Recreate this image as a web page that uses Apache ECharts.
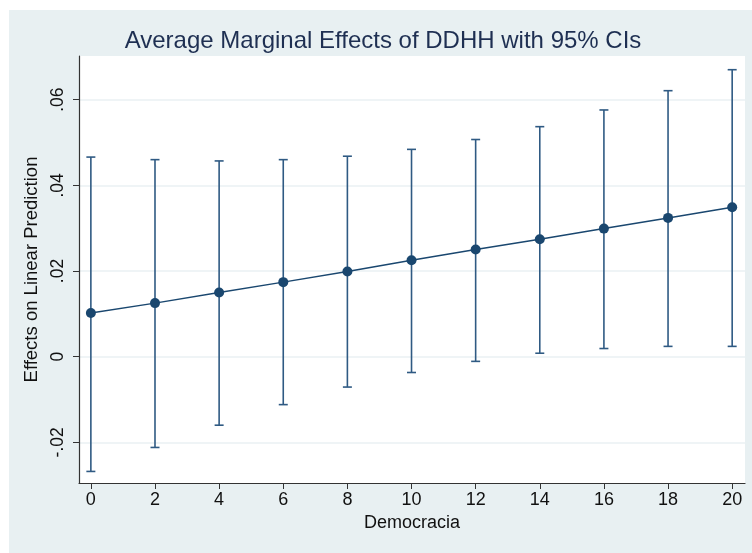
<!DOCTYPE html>
<html>
<head>
<meta charset="utf-8">
<script src="https://cdn.jsdelivr.net/npm/echarts@6/dist/echarts.min.js"></script>
<style>
html,body{margin:0;padding:0;background:#ffffff;}
#chart{width:752px;height:553px;}
</style>
</head>
<body>
<div id="chart"></div>
<script>
var democracia = [0, 2, 4, 6, 8, 10, 12, 14, 16, 18, 20];
var effect = [0.0102, 0.0125, 0.0150, 0.0174, 0.0199, 0.0225, 0.0250, 0.0274, 0.0299, 0.0324, 0.0349];
var ciLower = [-0.0268, -0.0212, -0.0160, -0.0112, -0.0071, -0.0037, -0.0011, 0.0008, 0.0019, 0.0024, 0.0024];
var ciUpper = [0.0466, 0.0460, 0.0457, 0.0460, 0.0468, 0.0484, 0.0507, 0.0537, 0.0576, 0.0621, 0.0670];
var yTicks = [-0.02, 0, 0.02, 0.04, 0.06];
var yTickLabels = ['-.02', '0', '.02', '.04', '.06'];
var xTicks = [0, 2, 4, 6, 8, 10, 12, 14, 16, 18, 20];

var navy = '#1a476f';
var font = '"Liberation Sans", Arial, Helvetica, sans-serif';

var pointData = democracia.map(function (d, i) { return [d, effect[i]]; });
var ciData = democracia.map(function (d, i) { return [d, ciLower[i], ciUpper[i]]; });

var chart = echarts.init(document.getElementById('chart'));
chart.setOption({
  backgroundColor: '#ffffff',
  animation: false,
  graphic: [{
    type: 'rect', z: -10, silent: true,
    shape: { x: 9, y: 10, width: 743, height: 543 },
    style: { fill: '#e8f0f2' }
  }, {
    type: 'rect', z: -9, silent: true,
    shape: { x: 79, y: 56, width: 666, height: 427 },
    style: { fill: '#ffffff' }
  }],
  title: {
    text: 'Average Marginal Effects of DDHH with 95% CIs',
    left: 378, top: 24, textAlign: 'center',
    textStyle: { fontFamily: font, fontSize: 24, fontWeight: 'normal', color: '#1e2f52' }
  },
  grid: { left: 79, right: 7, top: 56, bottom: 70 },
  xAxis: {
    type: 'value',
    min: -0.37, max: 20.4,
    name: 'Democracia', nameLocation: 'middle', nameGap: 29,
    nameTextStyle: { fontFamily: font, fontSize: 18, color: '#111' },
    axisLine: { show: true, onZero: false, lineStyle: { color: '#333', width: 1.2 } },
    axisTick: { show: true, length: 6, customValues: xTicks, lineStyle: { color: '#333' } },
    axisLabel: { customValues: xTicks, fontFamily: font, fontSize: 18, color: '#111', margin: 8 },
    splitLine: { show: false }
  },
  yAxis: {
    type: 'value',
    min: -0.0295, max: 0.0702,
    name: 'Effects on Linear Prediction', nameLocation: 'middle', nameGap: 31, nameRotate: 90,
    nameTextStyle: { fontFamily: font, fontSize: 18.5, color: '#111' },
    axisLine: { show: true, onZero: false, lineStyle: { color: '#333', width: 1.2 } },
    axisTick: { show: true, length: 6, customValues: yTicks, lineStyle: { color: '#333' } },
    axisLabel: {
      customValues: yTicks, rotate: 90, fontFamily: font, fontSize: 17.5, color: '#111', margin: 12,
      formatter: function (v) {
        for (var i = 0; i < yTicks.length; i++) { if (Math.abs(yTicks[i] - v) < 1e-9) return yTickLabels[i]; }
        return '';
      }
    },
    splitLine: { show: true, lineStyle: { color: '#eaf1f3', width: 1.5 } }
  },
  series: [{
    type: 'custom',
    data: ciData,
    z: 2,
    renderItem: function (params, api) {
      var x = api.value(0);
      var lo = api.coord([x, api.value(1)]);
      var hi = api.coord([x, api.value(2)]);
      var cap = 4.5;
      var st = { stroke: '#2f5a83', lineWidth: 1.6 };
      return {
        type: 'group',
        children: [
          { type: 'line', shape: { x1: lo[0], y1: lo[1], x2: hi[0], y2: hi[1] }, style: st },
          { type: 'line', shape: { x1: lo[0] - cap, y1: lo[1], x2: lo[0] + cap, y2: lo[1] }, style: st },
          { type: 'line', shape: { x1: hi[0] - cap, y1: hi[1], x2: hi[0] + cap, y2: hi[1] }, style: st }
        ]
      };
    }
  }, {
    type: 'line',
    data: pointData,
    z: 3,
    symbol: 'circle', symbolSize: 10,
    lineStyle: { color: navy, width: 1.5 },
    itemStyle: { color: navy }
  }]
});
</script>
</body>
</html>
